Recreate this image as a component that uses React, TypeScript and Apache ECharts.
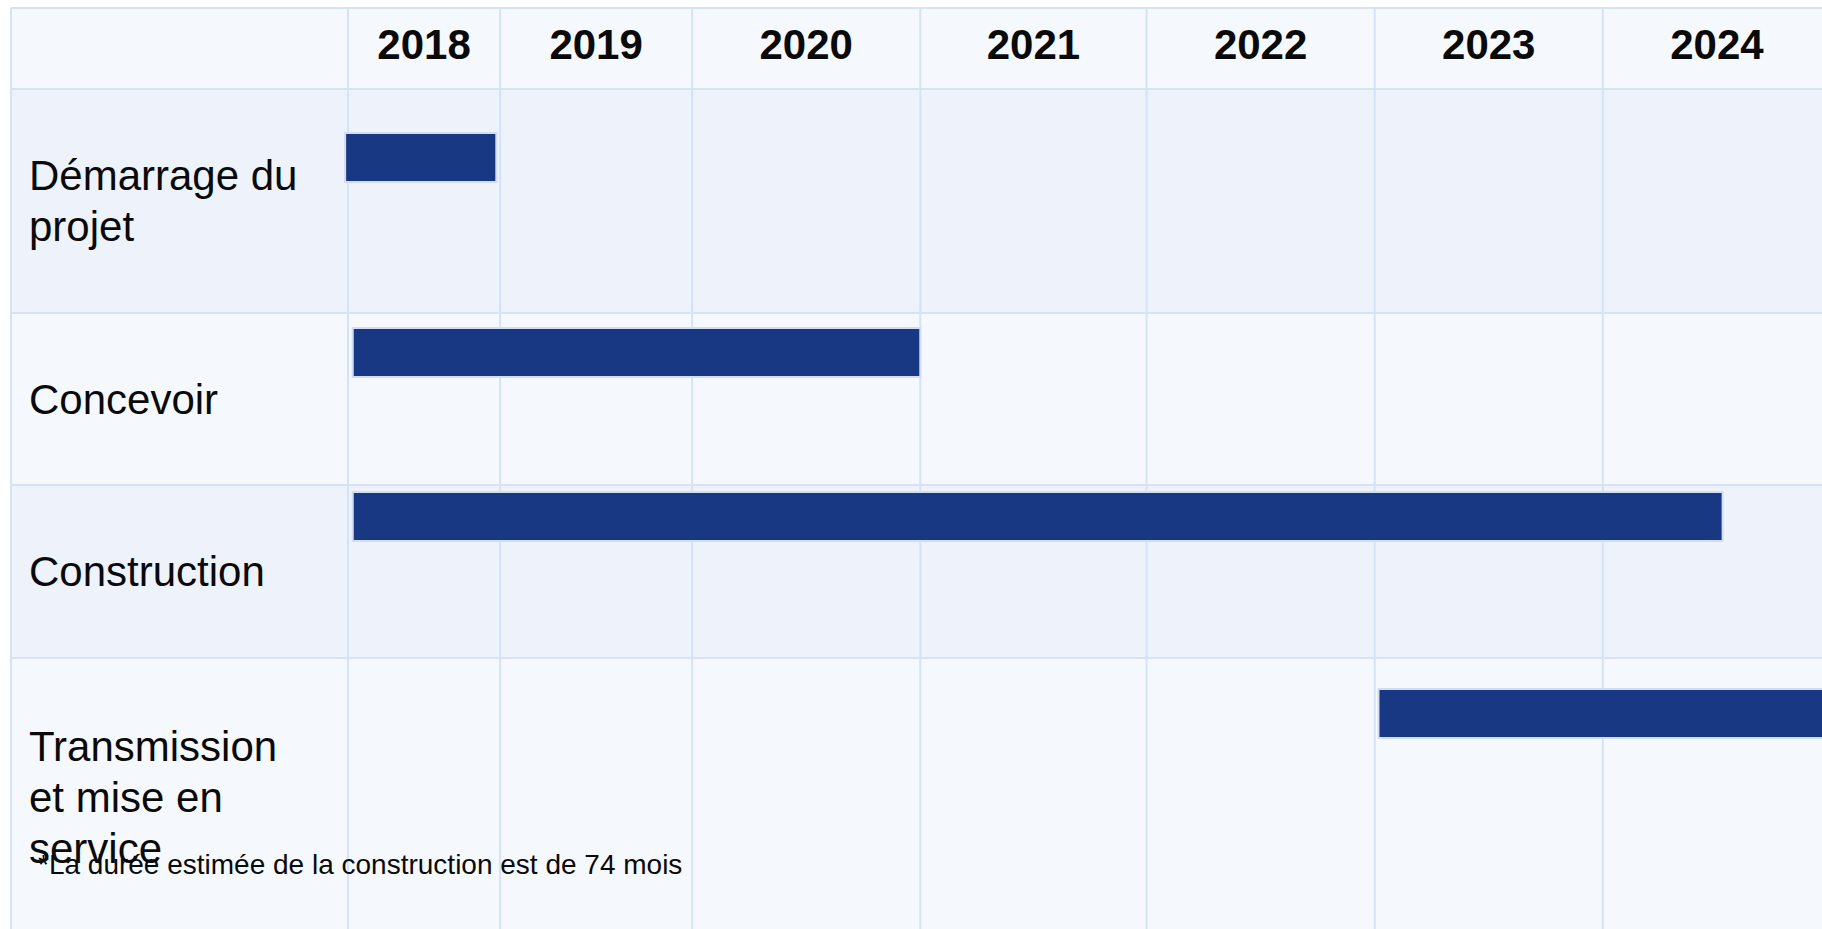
import React, { useEffect, useRef } from 'react';
import * as echarts from 'echarts';

// ---------- data ----------
const YEARS = ['2018', '2019', '2020', '2021', '2022', '2023', '2024'];
// column boundaries of the year columns, in months from the start of the timeline
const YEAR_EDGES = [0, 8, 18.1, 30.1, 42, 54, 66, 78];
const TASKS = ['Démarrage du\nprojet', 'Concevoir', 'Construction', 'Transmission\net mise en\nservice'];
const TASK_START = [-0.15, 0.25, 0.25, 54.2];
const TASK_END = [7.8, 30.1, 72.3, 82];
const FOOTNOTE = '*La durée estimée de la construction est de 74 mois';

// ---------- layout / style ----------
const ROW_HEIGHTS = [224, 172, 173, 278];
const BAR_OFFSET = [44, 15, 7, 31];
const BAR_H = 49;
const FONT = '"Liberation Sans", Arial, sans-serif';
const HEADER_BG = '#f5f8fd';
const ROW_BG = ['#edf2fb', '#f5f9fd', '#edf2fb', '#f5f9fd'];
const LINE = '#d6e3f6';
const BAR_FILL = '#183883';

export default function App() {
  const ref = useRef<HTMLDivElement>(null);
  useEffect(() => {
    document.body.style.margin = '0';
    document.body.style.overflow = 'hidden';
    const chart = echarts.init(ref.current!, null, { renderer: 'svg' });
    const rowTops: number[] = [0];
    ROW_HEIGHTS.forEach((h) => rowTops.push(rowTops[rowTops.length - 1] + h));
    const total = rowTops[rowTops.length - 1];

    const tableRender = (params: any, api: any) => {
      const X = (v: number) => api.coord([v, 0])[0];
      const Y = (v: number) => api.coord([0, v])[1];
      const xs = YEAR_EDGES.map(X);
      const ys = rowTops.map(Y);
      const left = 11;
      const top = 8;
      const right = xs[xs.length - 1];
      const bottom = ys[ys.length - 1];
      const children: any[] = [];
      children.push({ type: 'rect', shape: { x: left, y: top, width: right - left, height: ys[0] - top }, style: { fill: HEADER_BG } });
      for (let r = 0; r < TASKS.length; r++) {
        children.push({ type: 'rect', shape: { x: left, y: ys[r], width: right - left, height: ys[r + 1] - ys[r] }, style: { fill: ROW_BG[r] } });
      }
      const hl = [top, ...ys];
      hl.forEach((y) => children.push({ type: 'line', shape: { x1: left, y1: y, x2: right, y2: y }, style: { stroke: LINE, lineWidth: 2 } }));
      const vl = [left, ...xs];
      vl.forEach((x) => children.push({ type: 'line', shape: { x1: x, y1: top, x2: x, y2: bottom }, style: { stroke: LINE, lineWidth: 2 } }));
      YEARS.forEach((yr, i) => {
        children.push({
          type: 'text',
          style: {
            text: yr, x: (xs[i] + xs[i + 1]) / 2, y: 44, align: 'center', verticalAlign: 'middle',
            fontFamily: FONT, fontWeight: 'bold', fontSize: 42, fill: '#0a0a0a',
          },
        });
      });
      TASKS.forEach((t, r) => {
        children.push({
          type: 'text',
          style: {
            text: t, x: 29, y: (ys[r] + ys[r + 1]) / 2, align: 'left', verticalAlign: 'middle',
            fontFamily: FONT, fontSize: 42, lineHeight: 51, fill: '#0a0a0a',
          },
        });
      });
      return { type: 'group', children };
    };

    const barRender = (params: any, api: any) => {
      const i = api.value(2);
      const y0 = rowTops[i] + BAR_OFFSET[i];
      const p0 = api.coord([api.value(0), y0]);
      const p1 = api.coord([api.value(1), y0 + BAR_H]);
      return {
        type: 'rect',
        shape: { x: p0[0], y: p0[1], width: p1[0] - p0[0], height: p1[1] - p0[1] },
        style: { fill: BAR_FILL, stroke: '#d2ddf2', lineWidth: 2 },
      };
    };

    chart.setOption({
      animation: false,
      backgroundColor: '#ffffff',
      grid: { left: 348, top: 89, width: 1483, height: total },
      xAxis: { type: 'value', min: YEAR_EDGES[0], max: YEAR_EDGES[YEAR_EDGES.length - 1], show: false },
      yAxis: { type: 'value', min: 0, max: total, inverse: true, show: false },
      series: [
        { type: 'custom', name: 'table', renderItem: tableRender, data: [[0, 0]], silent: true, clip: false, z: 1 },
        {
          type: 'custom', name: 'tasks', renderItem: barRender, clip: false, z: 2,
          encode: { x: [0, 1] },
          data: TASKS.map((_, i) => [TASK_START[i], TASK_END[i], i]),
        },
      ],
      graphic: [
        {
          type: 'text', left: 38, top: 850, z: 10,
          style: { text: FOOTNOTE, fontFamily: FONT, fontSize: 28, fill: '#0a0a0a' },
        },
      ],
    });
    return () => chart.dispose();
  }, []);
  return <div ref={ref} style={{ position: 'fixed', left: 0, top: 0, width: 1840, height: 940 }} />;
}
